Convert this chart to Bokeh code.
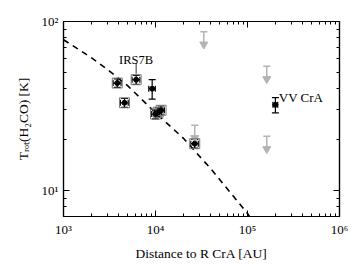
import math
from bokeh.plotting import figure
from bokeh.models import (LogAxis, FixedTicker, CustomJSTickFormatter, Whisker,
                          ColumnDataSource, Range1d, TeeHead, CustomLabelingPolicy)
from bokeh.embed import file_html
from bokeh.resources import INLINE
from bokeh.core.properties import value

# ---- data ----
det_dist = [3840, 4600, 6160, 9200, 10000, 10700, 11500, 26700, 201000]
det_trot = [43.2, 33.0, 45.2, 40.0, 28.3, 29.0, 29.8, 18.9, 32.1]
det_terr = [2.5, 2.0, 2.8, 5.3, 1.8, 1.8, 1.8, 1.1, 3.3]
det_derr = [380, 450, 600, 750, 900, 950, 1000, 2500, 12000]
det_boxed = [True, True, True, False, True, True, True, True, False]

ul_dist = [33500, 162000, 162000, 26700]
ul_trot = [87.0, 54.3, 20.9, 24.3]

model_dist = [1e3, 2e3, 3e3, 5e3, 1e4, 2e4, 4e4, 1e5, 1.05e5]
model_trot = [78.0, 61.1, 52.0, 41.6, 28.8, 20.4, 13.4, 7.3, 7.0]

x_ticks = [1e3, 1e4, 1e5, 1e6]
y_ticks = [10, 100]

x_label = "Distance to R CrA [AU]"
y_label = "T\u1d63\u2092\u209c(H\u2082CO) [K]"

FONT = "Liberation Serif"
GRAY = "#b3b3b3"

p = figure(frame_width=276, frame_height=195, x_axis_type="log", y_axis_type="log",
           x_range=Range1d(1e3, 1e6), y_range=Range1d(7, 100),
           output_backend="svg", toolbar_location=None,
           min_border_left=63, min_border_right=13, min_border_top=21, min_border_bottom=47)
p.xgrid.visible = False
p.ygrid.visible = False
p.outline_line_color = "black"
p.outline_line_width = 1.2

x_minor = [m * 10 ** e for e in range(3, 6) for m in range(2, 10)]
y_minor = [7, 8, 9] + [m * 10 for m in range(2, 10)]

fmt_code = """
const sup = {'-':'\u207b','0':'\u2070','1':'\u00b9','2':'\u00b2','3':'\u00b3','4':'\u2074',
             '5':'\u2075','6':'\u2076','7':'\u2077','8':'\u2078','9':'\u2079'};
const e = Math.round(Math.log10(tick));
return '10' + String(e).split('').map(c => sup[c]).join('');
"""

hide_code = """
const all = [...indices];
for (const i of all) indices.unset(i);
return indices;
"""


def style(ax, ticker, labels=True):
    ax.ticker = ticker
    ax.formatter = CustomJSTickFormatter(code=fmt_code)
    ax.major_tick_in = 6
    ax.major_tick_out = 0
    ax.minor_tick_in = 3
    ax.minor_tick_out = 0
    ax.axis_line_color = "black"
    ax.axis_line_width = 1.2
    ax.major_tick_line_width = 1.0
    ax.minor_tick_line_width = 1.0
    ax.major_label_text_font = FONT
    ax.major_label_text_color = "black"
    if labels:
        ax.major_label_text_font_size = "13px"
        ax.major_label_standoff = 5
    else:
        ax.major_label_text_font_size = "0px"
        ax.major_label_standoff = 0
        ax.major_label_policy = CustomLabelingPolicy(code=hide_code)


style(p.xaxis[0], FixedTicker(ticks=x_ticks, minor_ticks=x_minor))
style(p.yaxis[0], FixedTicker(ticks=y_ticks, minor_ticks=y_minor))
for ax, lab in ((p.xaxis[0], x_label), (p.yaxis[0], y_label)):
    ax.axis_label = lab
    ax.axis_label_text_font = FONT
    ax.axis_label_text_font_style = "normal"
    ax.axis_label_text_font_size = "13.5px"
    ax.axis_label_text_color = "black"
p.xaxis[0].axis_label_standoff = 6
p.yaxis[0].axis_label_standoff = 8

top = LogAxis()
style(top, FixedTicker(ticks=x_ticks, minor_ticks=x_minor), labels=False)
p.add_layout(top, "above")
right = LogAxis()
style(right, FixedTicker(ticks=y_ticks, minor_ticks=y_minor), labels=False)
p.add_layout(right, "right")

# model curve
p.line(model_dist, model_trot, line_color="black", line_width=1.6, line_dash="6 5")

# upper limits
f_seg = 10 ** (-0.065)
f_tri = 10 ** (-0.075)
p.segment(x0=ul_dist, y0=ul_trot, x1=ul_dist, y1=[t * f_seg for t in ul_trot],
          line_color=GRAY, line_width=1.5)
p.scatter(ul_dist, ul_trot, marker="dash", size=7, line_color=GRAY, line_width=1.5)
p.scatter(ul_dist, [t * f_tri for t in ul_trot], marker="inverted_triangle", size=8,
          fill_color=GRAY, line_color=GRAY)

# detections
src = ColumnDataSource(dict(
    x=det_dist, y=det_trot,
    ylo=[t - e for t, e in zip(det_trot, det_terr)],
    yhi=[t + e for t, e in zip(det_trot, det_terr)],
    xlo=[d - e for d, e in zip(det_dist, det_derr)],
    xhi=[d + e for d, e in zip(det_dist, det_derr)],
))
bx = [d for d, b in zip(det_dist, det_boxed) if b]
by = [t for t, b in zip(det_trot, det_boxed) if b]
p.scatter(bx, by, marker="square", size=10, fill_alpha=0.0,
          line_color="#7a7a7a", line_width=1.0)
p.add_layout(Whisker(source=src, base="x", lower="ylo", upper="yhi", dimension="height",
                     line_color="black", line_width=1.2,
                     upper_head=TeeHead(size=7, line_color="black", line_width=1.2),
                     lower_head=TeeHead(size=7, line_color="black", line_width=1.2)))
p.add_layout(Whisker(source=src, base="y", lower="xlo", upper="xhi", dimension="width",
                     line_color="black", line_width=1.2,
                     upper_head=TeeHead(size=6, line_color="black", line_width=1.2),
                     lower_head=TeeHead(size=6, line_color="black", line_width=1.2)))
p.scatter("x", "y", source=src, marker="circle", size=5, fill_color="black", line_color="black")

# annotations
p.text(x=[6160], y=[58.8], text=["IRS7B"], text_align="center", text_baseline="alphabetic",
       text_font=value(FONT), text_font_size="12.5px", text_color="black")
p.segment(x0=[6160], y0=[49.0], x1=[6160], y1=[56.5], line_color="black", line_width=0.8)
p.text(x=[219000], y=[35.7], text=["VV CrA"], text_align="left", text_baseline="alphabetic",
       text_font=value(FONT), text_font_size="13px", text_color="black")

open("out.html", "w").write(file_html(p, INLINE))
